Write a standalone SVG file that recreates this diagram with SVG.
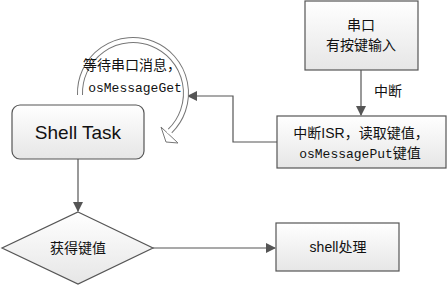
<svg xmlns="http://www.w3.org/2000/svg" width="447" height="285" viewBox="0 0 447 285">
<defs>
<linearGradient id="g" x1="0" y1="0" x2="0" y2="1">
<stop offset="0" stop-color="#ffffff"/>
<stop offset="1" stop-color="#e6e6e6"/>
</linearGradient>
<marker id="ah" markerWidth="10" markerHeight="10" refX="9" refY="5" orient="auto" markerUnits="userSpaceOnUse">
<path d="M0,0 L10,5 L0,10 z" fill="#555"/>
</marker>
<style>
.box{fill:url(#g);stroke:#555;stroke-width:1.2}
.cn{font-family:"Liberation Sans","Noto Sans CJK SC",sans-serif;font-size:14px;fill:#111;text-anchor:middle}
.mono{font-family:"Liberation Mono","Noto Sans CJK SC",monospace;font-size:13px;fill:#111;text-anchor:middle}
.conn{fill:none;stroke:#555;stroke-width:1.2}
</style>
</defs>
<rect width="447" height="285" fill="#fff"/>
<g id="connectors">
<path class="conn" d="M361,70 V115" marker-end="url(#ah)"/>
<path class="conn" d="M277,142 H233 V96 H188" marker-end="url(#ah)"/>
<path class="conn" d="M78,159 V211" marker-end="url(#ah)"/>
<path class="conn" d="M153,248 H275" marker-end="url(#ah)"/>
<text class="cn" x="388" y="96">中断</text>
</g>
<g id="loop">
<path d="M80,95 A53,53 0 1 1 170,131" fill="none" stroke="#777" stroke-width="6"/>
<path d="M161,127 L166,142 L178,143 z" fill="#fff" stroke="#777" stroke-width="1" stroke-linejoin="miter"/>
<path d="M80,95 A53,53 0 1 1 170,131 L168.5,133.5" fill="none" stroke="#fff" stroke-width="4"/>
<text class="cn" x="132" y="70">等待串口消息，</text>
<text class="mono" x="135" y="92">osMessageGet</text>
</g>
<g id="serial">
<rect class="box" x="305" y="1" width="113" height="69"/>
<text class="cn" x="361" y="30">串口</text>
<text class="cn" x="361" y="50">有按键输入</text>
</g>
<g id="isr">
<rect class="box" x="277" y="116" width="169" height="52"/>
<text class="cn" x="361" y="138">中断ISR，读取键值，</text>
<text class="cn" x="360" y="158"><tspan style="font-family:'Liberation Mono',monospace;font-size:13px">osMessagePut</tspan>键值</text>
</g>
<g id="shell-task">
<rect class="box" x="12" y="105" width="132" height="54" rx="8"/>
<text x="78" y="139" style="font-family:'Liberation Sans',sans-serif;font-size:19px;fill:#111;text-anchor:middle">Shell Task</text>
</g>
<g id="get-key">
<polygon class="box" points="78,212 153,248 78,284 2,248"/>
<text class="cn" x="78" y="253">获得键值</text>
</g>
<g id="shell-proc">
<rect class="box" x="276" y="223" width="123" height="48"/>
<text class="cn" x="338" y="252">shell处理</text>
</g>
</svg>
